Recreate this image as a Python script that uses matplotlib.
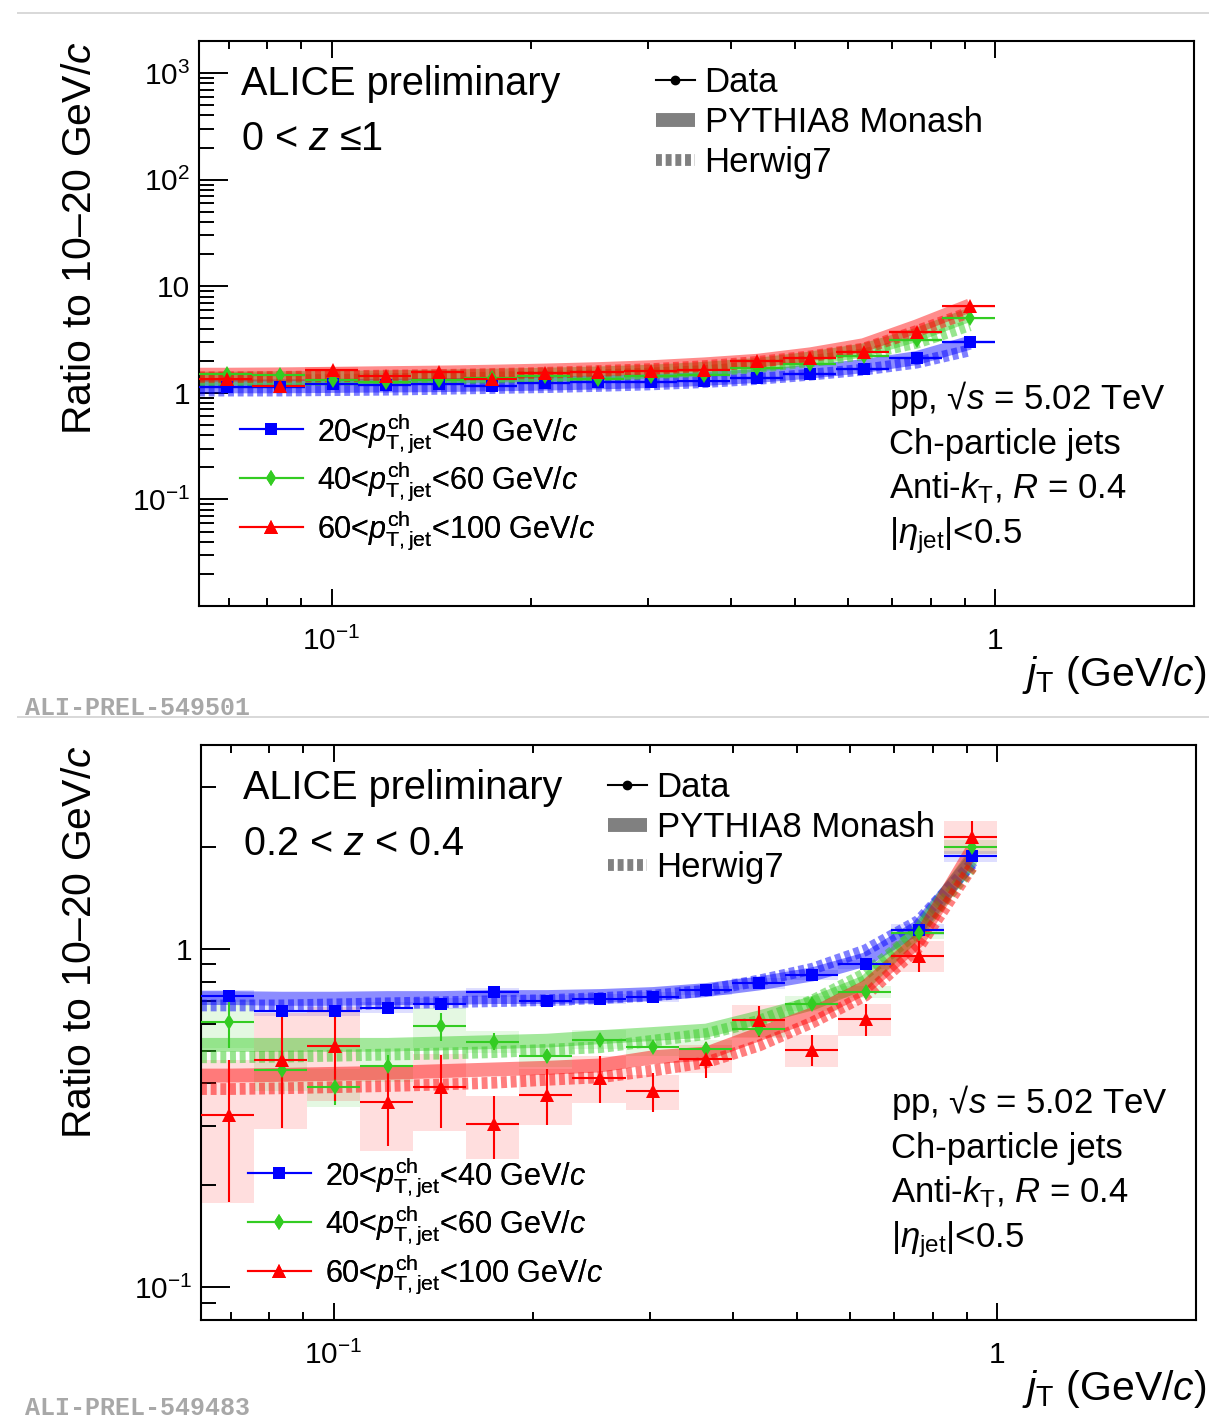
import numpy as np
import matplotlib
matplotlib.use("Agg")
import matplotlib.pyplot as plt
from matplotlib.lines import Line2D
from matplotlib.ticker import FixedLocator, FixedFormatter, LogLocator, NullFormatter

plt.rcParams["font.family"] = ["Liberation Sans", "DejaVu Sans"]
plt.rcParams["mathtext.fontset"] = "custom"
plt.rcParams["mathtext.rm"] = "Liberation Sans"
plt.rcParams["mathtext.it"] = "Liberation Sans:italic"
plt.rcParams["mathtext.bf"] = "Liberation Sans:bold"
plt.rcParams["mathtext.sf"] = "Liberation Sans"

# ---------------- data ----------------
# jT bin edges (GeV/c), log-spaced
jt_edges = [0.0631, 0.0759, 0.0912, 0.1096, 0.1318, 0.1585, 0.1905, 0.2291,
            0.2754, 0.3311, 0.3981, 0.4786, 0.5754, 0.6918, 0.8318, 1.0]
jt_range = (0.0631, 1.995)

series_labels = [r"20<$p_{\mathrm{T,jet}}^{\mathrm{ch}}$<40 GeV/$c$",
                 r"40<$p_{\mathrm{T,jet}}^{\mathrm{ch}}$<60 GeV/$c$",
                 r"60<$p_{\mathrm{T,jet}}^{\mathrm{ch}}$<100 GeV/$c$"]
model_labels = ["Data", "PYTHIA8 Monash", "Herwig7"]

# Panel 1: 0 < z <= 1
z1_blue = [1.13, 1.14, 1.22, 1.19, 1.22, 1.17, 1.24, 1.26, 1.27, 1.28, 1.37, 1.50, 1.68, 2.11, 3.03]
z1_green = [1.50, 1.47, 1.33, 1.26, 1.33, 1.38, 1.43, 1.36, 1.44, 1.46, 1.70, 1.88, 2.22, 3.16, 5.00]
z1_red = [1.36, 1.17, 1.65, 1.45, 1.56, 1.35, 1.53, 1.58, 1.62, 1.63, 2.00, 2.11, 2.44, 3.70, 6.46]
z1_blue_stat = [0.02, 0.02, 0.02, 0.02, 0.02, 0.02, 0.02, 0.02, 0.02, 0.02, 0.02, 0.03, 0.03, 0.04, 0.06]
z1_green_stat = [0.04, 0.04, 0.03, 0.03, 0.03, 0.03, 0.03, 0.03, 0.03, 0.03, 0.04, 0.04, 0.05, 0.06, 0.10]
z1_red_stat = [0.06, 0.06, 0.05, 0.05, 0.05, 0.05, 0.05, 0.05, 0.05, 0.05, 0.06, 0.06, 0.07, 0.10, 0.18]
z1_blue_sys = [0.05, 0.05, 0.05, 0.05, 0.05, 0.05, 0.05, 0.05, 0.05, 0.05, 0.06, 0.06, 0.07, 0.09, 0.13]
z1_green_sys = [0.07, 0.07, 0.06, 0.06, 0.06, 0.06, 0.06, 0.06, 0.06, 0.06, 0.07, 0.08, 0.09, 0.13, 0.20]
z1_red_sys = [0.08, 0.07, 0.08, 0.07, 0.07, 0.07, 0.07, 0.07, 0.07, 0.07, 0.09, 0.09, 0.10, 0.15, 0.27]
z1_py_blue = [1.15, 1.15, 1.16, 1.17, 1.18, 1.20, 1.22, 1.25, 1.29, 1.35, 1.44, 1.58, 1.78, 2.12, 2.95]
z1_hw_blue = [1.05, 1.05, 1.06, 1.07, 1.09, 1.11, 1.13, 1.16, 1.20, 1.26, 1.35, 1.48, 1.65, 1.92, 2.50]
z1_py_green = [1.36, 1.37, 1.38, 1.40, 1.42, 1.45, 1.48, 1.52, 1.58, 1.68, 1.83, 2.10, 2.50, 3.50, 5.40]
z1_hw_green = [1.30, 1.31, 1.32, 1.34, 1.36, 1.39, 1.42, 1.46, 1.52, 1.60, 1.74, 1.98, 2.30, 2.95, 4.30]
z1_py_red = [1.48, 1.49, 1.51, 1.53, 1.55, 1.58, 1.62, 1.67, 1.74, 1.85, 2.00, 2.30, 2.80, 4.20, 6.60]
z1_hw_red = [1.40, 1.41, 1.43, 1.45, 1.47, 1.50, 1.54, 1.60, 1.67, 1.78, 1.95, 2.20, 2.60, 3.80, 5.70]

# Panel 2: 0.2 < z < 0.4
z2_blue = [0.724, 0.657, 0.657, 0.669, 0.688, 0.743, 0.703, 0.711, 0.719, 0.753, 0.791, 0.838, 0.899, 1.14, 1.876]
z2_green = [0.608, 0.439, 0.390, 0.449, 0.590, 0.532, 0.483, 0.539, 0.512, 0.506, 0.580, 0.688, 0.744, 1.11, 2.00]
z2_red = [0.323, 0.470, 0.515, 0.353, 0.390, 0.303, 0.371, 0.415, 0.379, 0.473, 0.614, 0.503, 0.621, 0.955, 2.14]
z2_blue_stat = [0.015, 0.012, 0.012, 0.01, 0.01, 0.01, 0.01, 0.01, 0.01, 0.01, 0.01, 0.01, 0.012, 0.015, 0.03]
z2_green_stat = [0.10, 0.05, 0.045, 0.035, 0.055, 0.03, 0.022, 0.025, 0.02, 0.02, 0.02, 0.02, 0.02, 0.03, 0.06]
z2_red_stat = [0.145, 0.175, 0.16, 0.092, 0.094, 0.063, 0.07, 0.066, 0.05, 0.059, 0.064, 0.054, 0.067, 0.10, 0.24]
z2_blue_sys = [0.03, 0.025, 0.025, 0.025, 0.025, 0.025, 0.025, 0.025, 0.025, 0.025, 0.03, 0.03, 0.03, 0.04, 0.07]
z2_green_sys = [0.10, 0.06, 0.05, 0.045, 0.08, 0.04, 0.035, 0.035, 0.03, 0.03, 0.03, 0.035, 0.03, 0.04, 0.09]
z2_red_sys = [0.146, 0.176, 0.16, 0.10, 0.10, 0.064, 0.07, 0.066, 0.045, 0.045, 0.068, 0.055, 0.068, 0.10, 0.24]
z2_py_blue = [0.715, 0.712, 0.712, 0.715, 0.715, 0.72, 0.72, 0.725, 0.735, 0.755, 0.79, 0.84, 0.93, 1.16, 1.82]
z2_hw_blue = [0.68, 0.68, 0.685, 0.69, 0.695, 0.70, 0.705, 0.715, 0.727, 0.753, 0.806, 0.873, 0.99, 1.21, 1.78]
z2_py_green = [0.52, 0.52, 0.52, 0.52, 0.525, 0.53, 0.535, 0.548, 0.56, 0.573, 0.627, 0.69, 0.797, 1.13, 1.85]
z2_hw_green = [0.478, 0.48, 0.483, 0.487, 0.49, 0.495, 0.503, 0.512, 0.535, 0.56, 0.613, 0.703, 0.845, 1.13, 1.74]
z2_py_red = [0.422, 0.424, 0.427, 0.43, 0.435, 0.44, 0.445, 0.452, 0.478, 0.49, 0.56, 0.64, 0.77, 1.06, 1.95]
z2_hw_red = [0.385, 0.387, 0.39, 0.393, 0.397, 0.402, 0.41, 0.417, 0.437, 0.462, 0.518, 0.606, 0.728, 1.01, 1.74]

# ---------------- styling ----------------
W, H = 1209, 1421
BLUE, GREEN, RED = "#0000ff", "#33cc22", "#ff0000"
styles = [(BLUE, "s", 8.5), (GREEN, "d", 8), (RED, "^", 10)]
FS_TEXT = 25
FS_LEG = 22
FS_BIG = 28.5
FS_TICK = 21.5
FS_TITLE = 29.5
HW_DASH = (0, (0.5, 0.32))


def fx(px):
    return px / W


def fy(py):
    return 1 - py / H


edges = np.array(jt_edges)
centers = 0.5 * (edges[:-1] + edges[1:])
widths = np.diff(edges)

fig = plt.figure(figsize=(W / 100, H / 100), dpi=100)


def draw_panel(ax, data, stat, sys, pythia, herwig):
    for (color, marker, ms), y, e in zip(styles, data, sys):
        y, e = np.array(y), np.array(e)
        ax.bar(edges[:-1], 2 * e, bottom=y - e, width=widths, align="edge",
               color=color, alpha=0.13, linewidth=0, zorder=1)
    for (color, marker, ms), py, hw in zip(styles, pythia, herwig):
        xm = np.r_[edges[0], centers]
        ax.plot(xm, np.r_[py[0], py], color=color, alpha=0.45, lw=10,
                solid_capstyle="butt", solid_joinstyle="round", zorder=2)
        ax.plot(xm, np.r_[hw[0], hw], color=color, alpha=0.5, lw=8.5,
                ls=HW_DASH, dash_capstyle="butt", zorder=2)
    for (color, marker, ms), y, e in zip(styles, data, stat):
        y = np.array(y)
        ax.errorbar(centers, y, yerr=e, xerr=[centers - edges[:-1], edges[1:] - centers],
                    fmt=marker, color=color, ms=ms, elinewidth=1.5, capsize=0,
                    markeredgewidth=0, zorder=4)
    ax.set_xscale("log")
    ax.set_yscale("log")
    ax.set_xlim(*jt_range)
    ax.xaxis.set_major_locator(FixedLocator([0.1, 1]))
    ax.xaxis.set_major_formatter(FixedFormatter([r"$10^{-1}$", "1"]))
    ax.xaxis.set_minor_locator(LogLocator(base=10, subs=np.arange(2, 10), numticks=50))
    ax.xaxis.set_minor_formatter(NullFormatter())
    ax.yaxis.set_minor_locator(LogLocator(base=10, subs=np.arange(2, 10), numticks=50))
    ax.yaxis.set_minor_formatter(NullFormatter())
    ax.tick_params(axis="x", which="both", direction="in", top=True, bottom=True, width=1.4)
    ax.tick_params(axis="x", which="major", length=12, pad=15, labelsize=FS_TICK)
    ax.tick_params(axis="x", which="minor", length=5.5)
    ax.tick_params(axis="y", which="both", direction="in", left=True, right=False, width=1.4)
    ax.tick_params(axis="y", which="major", length=21, pad=6.5, labelsize=FS_TICK)
    ax.tick_params(axis="y", which="minor", length=10.5)
    for s in ax.spines.values():
        s.set_linewidth(1.5)


def series_legend(ax, x0, y0):
    handles = [Line2D([], [], color=c, marker=m, ms=ms, lw=1.5, markeredgewidth=0)
               for c, m, ms in styles]
    leg = ax.legend(handles, series_labels, loc="upper left",
                    bbox_to_anchor=(fx(x0), fy(y0)), bbox_transform=fig.transFigure,
                    frameon=False, fontsize=FS_LEG, handlelength=2.06,
                    handletextpad=0.46, labelspacing=0.17, borderpad=0, borderaxespad=0)
    ax.add_artist(leg)


def model_legend(ax, x0, y0):
    handles = [Line2D([], [], color="k", marker="o", ms=6, lw=1.5),
               Line2D([], [], color="#808080", lw=10, solid_capstyle="butt"),
               Line2D([], [], color="#808080", lw=8.5, ls=HW_DASH, dash_capstyle="butt")]
    leg = ax.legend(handles, model_labels, loc="upper left",
                    bbox_to_anchor=(fx(x0), fy(y0)), bbox_transform=fig.transFigure,
                    frameon=False, fontsize=FS_TEXT, handlelength=1.12,
                    handletextpad=0.28, labelspacing=0.2, borderpad=0, borderaxespad=0)
    ax.add_artist(leg)


def info_text(x0, y0):
    lines = [r"pp, √$s$ = 5.02 TeV", "Ch-particle jets",
             r"Anti-$k_{\mathrm{T}}$, $R$ = 0.4", r"|$\eta_{\mathrm{jet}}$|<0.5"]
    for i, t in enumerate(lines):
        fig.text(fx(x0), fy(y0 + 44.7 * i), t, fontsize=FS_TEXT, va="baseline", ha="left")


# ---------------- top panel ----------------
ax1 = fig.add_axes([fx(199), fy(606), (1194 - 199) / W, (606 - 41) / H])
draw_panel(ax1, [z1_blue, z1_green, z1_red], [z1_blue_stat, z1_green_stat, z1_red_stat],
           [z1_blue_sys, z1_green_sys, z1_red_sys],
           [z1_py_blue, z1_py_green, z1_py_red], [z1_hw_blue, z1_hw_green, z1_hw_red])
ax1.set_ylim(0.01, 2000)
ax1.yaxis.set_major_locator(FixedLocator([0.1, 1, 10, 100, 1000]))
ax1.yaxis.set_major_formatter(FixedFormatter([r"$10^{-1}$", "1", "10", r"$10^{2}$", r"$10^{3}$"]))
fig.text(fx(241), fy(95), "ALICE preliminary", fontsize=FS_BIG, va="baseline")
fig.text(fx(241), fy(150), r"0 < $z$ ≤1", fontsize=FS_BIG, va="baseline")
model_legend(ax1, 656, 66)
series_legend(ax1, 240, 411)
info_text(889, 409)

# ---------------- bottom panel ----------------
ax2 = fig.add_axes([fx(201), fy(1320), (1196 - 201) / W, (1320 - 745) / H])
draw_panel(ax2, [z2_blue, z2_green, z2_red], [z2_blue_stat, z2_green_stat, z2_red_stat],
           [z2_blue_sys, z2_green_sys, z2_red_sys],
           [z2_py_blue, z2_py_green, z2_py_red], [z2_hw_blue, z2_hw_green, z2_hw_red])
ax2.set_ylim(0.08, 4)
ax2.yaxis.set_major_locator(FixedLocator([0.1, 1]))
ax2.yaxis.set_major_formatter(FixedFormatter([r"$10^{-1}$", "1"]))
fig.text(fx(243), fy(799), "ALICE preliminary", fontsize=FS_BIG, va="baseline")
fig.text(fx(243), fy(855), "0.2 < $z$ < 0.4", fontsize=FS_BIG, va="baseline")
model_legend(ax2, 608, 771)
series_legend(ax2, 248, 1155)
info_text(891, 1113)

# axis titles
for top, bottom in [(41, 606), (745, 1320)]:
    fig.text(fx(80), fy(top), r"Ratio to 10–20 GeV/$c$", rotation=90,
             ha="center", va="top", fontsize=FS_TITLE)
    fig.text(fx(1206), fy(bottom + 80), r"$j_{\mathrm{T}}$ (GeV/$c$)",
             ha="right", va="baseline", fontsize=FS_TITLE)

# separators and figure tags
for y in (13, 717):
    fig.add_artist(Line2D([fx(18), 1.0], [fy(y), fy(y)], color="#d8d8d8", lw=1.4))
fig.text(fx(25), fy(715), "ALI-PREL-549501", family="Liberation Mono", weight="bold",
         color="#a8a8a8", fontsize=18, va="baseline")
fig.text(fx(25), fy(1415), "ALI-PREL-549483", family="Liberation Mono", weight="bold",
         color="#a8a8a8", fontsize=18, va="baseline")

fig.savefig("out.png", dpi=100)
